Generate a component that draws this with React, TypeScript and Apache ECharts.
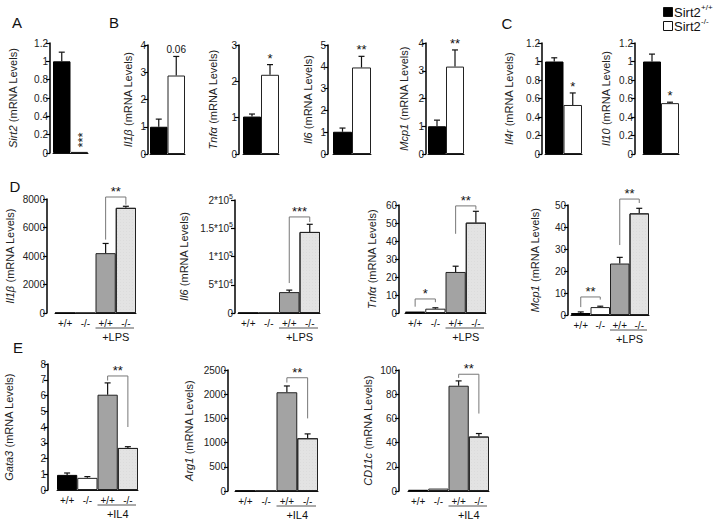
import React, { useEffect, useRef } from 'react';
import * as echarts from 'echarts';

// ---------- categories ----------
const genotypes2 = ['+/+', '-/-'];
const genotypes4 = ['+/+', '-/-', '+/+', '-/-'];

// ---------- Panel A ----------
const sirt2Mean = [1.0, 0.012];
const sirt2Err = [1.1, 0.02];
const sirt2Marks = ['', '***'];

// ---------- Panel B ----------
const il1bBMean = [1.0, 2.88];
const il1bBErr = [1.28, 3.58];
const il1bBMarks = ['', '0.06'];
const tnfBMean = [1.03, 2.18];
const tnfBErr = [1.1, 2.46];
const tnfBMarks = ['', '*'];
const il6BMean = [1.02, 3.97];
const il6BErr = [1.19, 4.48];
const il6BMarks = ['', '**'];
const mcp1BMean = [1.0, 3.15];
const mcp1BErr = [1.22, 3.75];
const mcp1BMarks = ['', '**'];

// ---------- Panel C ----------
const il4rMean = [1.0, 0.53];
const il4rErr = [1.04, 0.66];
const il4rMarks = ['', '*'];
const il10Mean = [1.0, 0.55];
const il10Err = [1.08, 0.56];
const il10Marks = ['', '*'];

// ---------- Panel D (+LPS) ----------
const il1bDMean = [12, 12, 4200, 7380];
const il1bDErr = [12, 12, 4880, 7490];
const il1bDBrackets = [[2, 3, 8140, 5150, 7600]];
const il1bDBracketLabels = ['**'];
const il6DMean = [400, 400, 37000, 143500];
const il6DErr = [400, 400, 40500, 157000];
const il6DBrackets = [[2, 3, 170000, 53000, 161000]];
const il6DBracketLabels = ['***'];
const il6DTickMantissas = ['0', '5*10', '1*10', '1.5*10', '2*10'];
const il6DTickExponents = ['', '4', '5', '5', '5'];
const tnfDMean = [0.8, 2.4, 22.8, 50.2];
const tnfDErr = [1.0, 2.9, 26.0, 56.5];
const tnfDBrackets = [[0, 1, 7.8, 3.5, 6.0], [2, 3, 59.5, 44, 57.5]];
const tnfDBracketLabels = ['*', '**'];
const mcp1DMean = [0.9, 3.6, 23.4, 46.2];
const mcp1DErr = [1.4, 4.0, 26.2, 48.5];
const mcp1DBrackets = [[0, 1, 8.2, 3.6, 7.0], [2, 3, 52.7, 31.8, 50.9]];
const mcp1DBracketLabels = ['**', '**'];

// ---------- Panel E (+IL4) ----------
const gata3Mean = [0.96, 0.77, 6.05, 2.67];
const gata3Err = [1.08, 0.85, 6.8, 2.75];
const gata3Brackets = [[2, 3, 7.24, 6.95, 4.0]];
const gata3BracketLabels = ['**'];
const arg1Mean = [8, 8, 2040, 1090];
const arg1Err = [8, 8, 2170, 1180];
const arg1Brackets = [[2, 3, 2340, 2240, 1500]];
const arg1BracketLabels = ['**'];
const cd11cMean = [1.0, 2.0, 87, 45];
const cd11cErr = [1.5, 2.5, 91, 47.5];
const cd11cBrackets = [[2, 3, 96.5, 93.5, 64]];
const cd11cBracketLabels = ['**'];

const legendLabels = ['Sirt2', 'Sirt2'];
const legendSups = ['+/+', '-/-'];
const panelLetters = ['A', 'B', 'C', 'D', 'E'];

// ---------- styles ----------
const FONT = '"Liberation Sans", Arial, Helvetica, sans-serif';
const FILLS = ['#000000', '#ffffff', '#a3a3a3', '#e3e3e3'];
const BORDERS = ['#000000', '#222222', '#222222', '#222222'];

type Panel = {
  gene: string;
  cats: string[];
  mean: number[];
  err: number[];
  max: number;
  interval: number;
  L: { axis: number; x0: number; x1: number; top: number; bottom: number; gap: number };
  marks?: string[];
  rotMark?: boolean;
  brackets?: number[][];
  bracketLabels?: string[];
  treat?: string;
  tickM?: string[];
  tickE?: string[];
};

const panels: Panel[] = [
  { gene: 'Sirt2', cats: genotypes2, mean: sirt2Mean, err: sirt2Err, max: 1.2, interval: 0.2, marks: sirt2Marks, rotMark: true,
    L: { axis: 50, x0: 53, x1: 88, top: 43, bottom: 153, gap: 32 } },
  { gene: 'Il1β', cats: genotypes2, mean: il1bBMean, err: il1bBErr, max: 4, interval: 1, marks: il1bBMarks,
    L: { axis: 148, x0: 150, x1: 185, top: 45, bottom: 154, gap: 15 } },
  { gene: 'Tnfα', cats: genotypes2, mean: tnfBMean, err: tnfBErr, max: 3, interval: 1, marks: tnfBMarks,
    L: { axis: 239, x0: 243, x1: 279, top: 45, bottom: 154, gap: 21 } },
  { gene: 'Il6', cats: genotypes2, mean: il6BMean, err: il6BErr, max: 5, interval: 1, marks: il6BMarks,
    L: { axis: 328, x0: 333, x1: 371, top: 45, bottom: 154, gap: 15 } },
  { gene: 'Mcp1', cats: genotypes2, mean: mcp1BMean, err: mcp1BErr, max: 4, interval: 1, marks: mcp1BMarks,
    L: { axis: 426, x0: 428, x1: 464, top: 43, bottom: 154, gap: 17 } },
  { gene: 'Il4r', cats: genotypes2, mean: il4rMean, err: il4rErr, max: 1.2, interval: 0.2, marks: il4rMarks,
    L: { axis: 542, x0: 545, x1: 582, top: 43, bottom: 154, gap: 28 } },
  { gene: 'Il10', cats: genotypes2, mean: il10Mean, err: il10Err, max: 1.2, interval: 0.2, marks: il10Marks,
    L: { axis: 635, x0: 643, x1: 679, top: 43, bottom: 154, gap: 24 } },
  { gene: 'Il1β', cats: genotypes4, mean: il1bDMean, err: il1bDErr, max: 8000, interval: 2000, brackets: il1bDBrackets, bracketLabels: il1bDBracketLabels, treat: '+LPS',
    L: { axis: 47, x0: 55, x1: 136, top: 199, bottom: 313, gap: 32 } },
  { gene: 'Il6', cats: genotypes4, mean: il6DMean, err: il6DErr, max: 200000, interval: 50000, brackets: il6DBrackets, bracketLabels: il6DBracketLabels, treat: '+LPS',
    tickM: il6DTickMantissas, tickE: il6DTickExponents,
    L: { axis: 235, x0: 238, x1: 320, top: 200, bottom: 313, gap: 46 } },
  { gene: 'Tnfα', cats: genotypes4, mean: tnfDMean, err: tnfDErr, max: 60, interval: 10, brackets: tnfDBrackets, bracketLabels: tnfDBracketLabels, treat: '+LPS',
    L: { axis: 399, x0: 405, x1: 486, top: 205, bottom: 313, gap: 22 } },
  { gene: 'Mcp1', cats: genotypes4, mean: mcp1DMean, err: mcp1DErr, max: 50, interval: 10, brackets: mcp1DBrackets, bracketLabels: mcp1DBracketLabels, treat: '+LPS',
    L: { axis: 568, x0: 571, x1: 649, top: 205, bottom: 315, gap: 28 } },
  { gene: 'Gata3', cats: genotypes4, mean: gata3Mean, err: gata3Err, max: 8, interval: 1, brackets: gata3Brackets, bracketLabels: gata3BracketLabels, treat: '+IL4',
    L: { axis: 48, x0: 57, x1: 138, top: 364, bottom: 490, gap: 34 } },
  { gene: 'Arg1', cats: genotypes4, mean: arg1Mean, err: arg1Err, max: 2500, interval: 500, brackets: arg1Brackets, bracketLabels: arg1BracketLabels, treat: '+IL4',
    L: { axis: 228, x0: 235, x1: 318, top: 370, bottom: 491, gap: 34 } },
  { gene: 'CD11c', cats: genotypes4, mean: cd11cMean, err: cd11cErr, max: 100, interval: 20, brackets: cd11cBrackets, bracketLabels: cd11cBracketLabels, treat: '+IL4',
    L: { axis: 399, x0: 408, x1: 489, top: 370, bottom: 491, gap: 26 } },
];

function buildOption() {
  const grid: any[] = [];
  const xAxis: any[] = [];
  const yAxis: any[] = [];
  const series: any[] = [];

  panels.forEach((p, i) => {
    const L = p.L;
    grid.push({ left: L.x0, top: L.top, width: L.x1 - L.x0, height: L.bottom - L.top, containLabel: false, outerBoundsMode: 'none' });
    xAxis.push({
      type: 'category', gridIndex: i, data: p.cats,
      axisLine: { show: true, lineStyle: { color: '#111', width: 1 } },
      axisTick: { show: false },
      axisLabel: { show: p.cats.length === 4, interval: 0, fontSize: 10, color: '#111', margin: 5, fontFamily: FONT },
      splitLine: { show: false },
    });
    yAxis.push({
      type: 'value', gridIndex: i, min: 0, max: p.max, interval: p.interval,
      offset: L.x0 - L.axis,
      name: `{g|${p.gene}} (mRNA Levels)`,
      nameLocation: 'middle', nameGap: L.gap, nameRotate: 90,
      nameTextStyle: { fontSize: 11, color: '#222', fontFamily: FONT,
        rich: { g: { fontStyle: 'italic', fontSize: 11, color: '#222', fontFamily: FONT } } },
      axisLine: { show: true, onZero: false, lineStyle: { color: '#000', width: 1.5 } },
      axisTick: { show: true, inside: false, length: 4, lineStyle: { color: '#000', width: 1.2 } },
      axisLabel: {
        fontSize: 10, color: '#222', margin: 2, fontFamily: FONT,
        formatter: (v: number) => {
          if (p.tickM) {
            const idx = Math.round(v / p.interval);
            const e = p.tickE![idx];
            return e ? `{b|${p.tickM[idx]}}{s|${e}}` : `{b|${p.tickM[idx]}}`;
          }
          return String(+v.toFixed(4));
        },
        rich: {
          b: { fontSize: 10, lineHeight: 14, verticalAlign: 'middle', color: '#222', fontFamily: FONT },
          s: { fontSize: 7, lineHeight: 7, verticalAlign: 'top', color: '#222', fontFamily: FONT },
        },
      },
      splitLine: { show: false },
    });
    series.push({
      type: 'bar', xAxisIndex: i, yAxisIndex: i, barCategoryGap: '0%', silent: true,
      data: p.mean.map((v, k) => ({
        value: v,
        itemStyle: {
          color: FILLS[k], borderColor: BORDERS[k], borderWidth: 1,
          decal: k === 3 ? { symbol: 'rect', symbolSize: 0.5, color: 'rgba(0,0,0,0.12)', dashArrayX: [1, 2], dashArrayY: [1, 2] } : undefined,
        },
      })),
    });
    series.push({
      type: 'custom', xAxisIndex: i, yAxisIndex: i, silent: true,
      data: p.mean.map((v, k) => [k, v, p.err[k]]),
      renderItem: (params: any, api: any) => {
        const k = api.value(0), v = api.value(1), e = api.value(2);
        const p0 = api.coord([k, v]);
        const p1 = api.coord([k, e]);
        const children: any[] = [];
        if (p0[1] - p1[1] > 0.8) {
          children.push({ type: 'line', shape: { x1: p0[0], y1: p0[1], x2: p1[0], y2: p1[1] }, style: { stroke: '#111', lineWidth: 1.2 } });
          children.push({ type: 'line', shape: { x1: p1[0] - 3, y1: p1[1], x2: p1[0] + 3, y2: p1[1] }, style: { stroke: '#111', lineWidth: 1.2 } });
        }
        const m = p.marks ? p.marks[params.dataIndex] : '';
        if (m) {
          if (p.rotMark) {
            const base = api.coord([k, 0]);
            children.push({ type: 'text', x: base[0] + 3, y: base[1] - 13, rotation: Math.PI / 2,
              style: { text: m, fontSize: 13, fontFamily: FONT, fill: '#111', align: 'center', verticalAlign: 'middle' } });
          } else {
            const numeric = /\d/.test(m);
            children.push({ type: 'text', x: p1[0], y: p1[1] - (numeric ? 2 : 0),
              style: { text: m, fontSize: numeric ? 10 : 13, fontFamily: FONT, fill: '#111', align: 'center', verticalAlign: 'bottom' } });
          }
        }
        return { type: 'group', children };
      },
    });
    if (p.brackets) {
      series.push({
        type: 'custom', xAxisIndex: i, yAxisIndex: i, silent: true,
        data: p.brackets,
        renderItem: (params: any, api: any) => {
          const l = api.value(0), r = api.value(1), top = api.value(2), le = api.value(3), re = api.value(4);
          const a = api.coord([l, le]), b = api.coord([l, top]), c = api.coord([r, top]), d = api.coord([r, re]);
          return {
            type: 'group', children: [
              { type: 'polyline', shape: { points: [a, b, c, d] }, style: { stroke: '#777', lineWidth: 1, fill: null } },
              { type: 'text', x: (b[0] + c[0]) / 2, y: b[1] + 1,
                style: { text: p.bracketLabels![params.dataIndex], fontSize: 13, fontFamily: FONT, fill: '#111', align: 'center', verticalAlign: 'bottom' } },
            ],
          };
        },
      });
    }
    if (p.treat) {
      series.push({
        type: 'custom', xAxisIndex: i, yAxisIndex: i, silent: true,
        data: [[2, 3]],
        renderItem: (params: any, api: any) => {
          const a = api.coord([api.value(0), 0]);
          const b = api.coord([api.value(1), 0]);
          const bw = api.size([1, 0])[0];
          const y = a[1] + 15;
          return {
            type: 'group', children: [
              { type: 'line', shape: { x1: a[0] - bw / 2, y1: y, x2: b[0] + bw / 2 - 2, y2: y }, style: { stroke: '#555', lineWidth: 1 } },
              { type: 'text', x: (a[0] + b[0]) / 2, y: y + 3,
                style: { text: p.treat, fontSize: 11, fontFamily: FONT, fill: '#111', align: 'center', verticalAlign: 'top' } },
            ],
          };
        },
      });
    }
  });

  const letterPos = [[17, 22], [114, 22], [507, 23], [15, 186], [18, 347]];
  const graphic: any[] = [];
  panelLetters.forEach((t, i) => {
    graphic.push({ type: 'text', x: letterPos[i][0], y: letterPos[i][1],
      style: { text: t, fontSize: 15, fontFamily: FONT, fill: '#111', align: 'center', verticalAlign: 'middle' } });
  });
  const legY = [12, 26];
  legendLabels.forEach((t, i) => {
    graphic.push({ type: 'rect', shape: { x: 663.5, y: legY[i] - 4.5, width: 9, height: 9 },
      style: { fill: FILLS[i], stroke: '#111', lineWidth: 1 } });
    graphic.push({ type: 'text', x: 674, y: legY[i],
      style: { text: t, fontSize: 13, fontFamily: FONT, fill: '#111', align: 'left', verticalAlign: 'middle' } });
    graphic.push({ type: 'text', x: 701, y: legY[i] - 5,
      style: { text: legendSups[i], fontSize: 8, fontFamily: FONT, fill: '#111', align: 'left', verticalAlign: 'middle' } });
  });

  return { animation: false, backgroundColor: '#ffffff', grid, xAxis, yAxis, series, graphic };
}

export default function App() {
  const ref = useRef<HTMLDivElement>(null);
  useEffect(() => {
    if (!ref.current) return;
    const chart = echarts.init(ref.current, undefined, { renderer: 'svg' });
    chart.setOption(buildOption() as any);
    return () => chart.dispose();
  }, []);
  return <div ref={ref} style={{ position: 'fixed', left: 0, top: 0, width: 719, height: 524, background: '#fff' }} />;
}
